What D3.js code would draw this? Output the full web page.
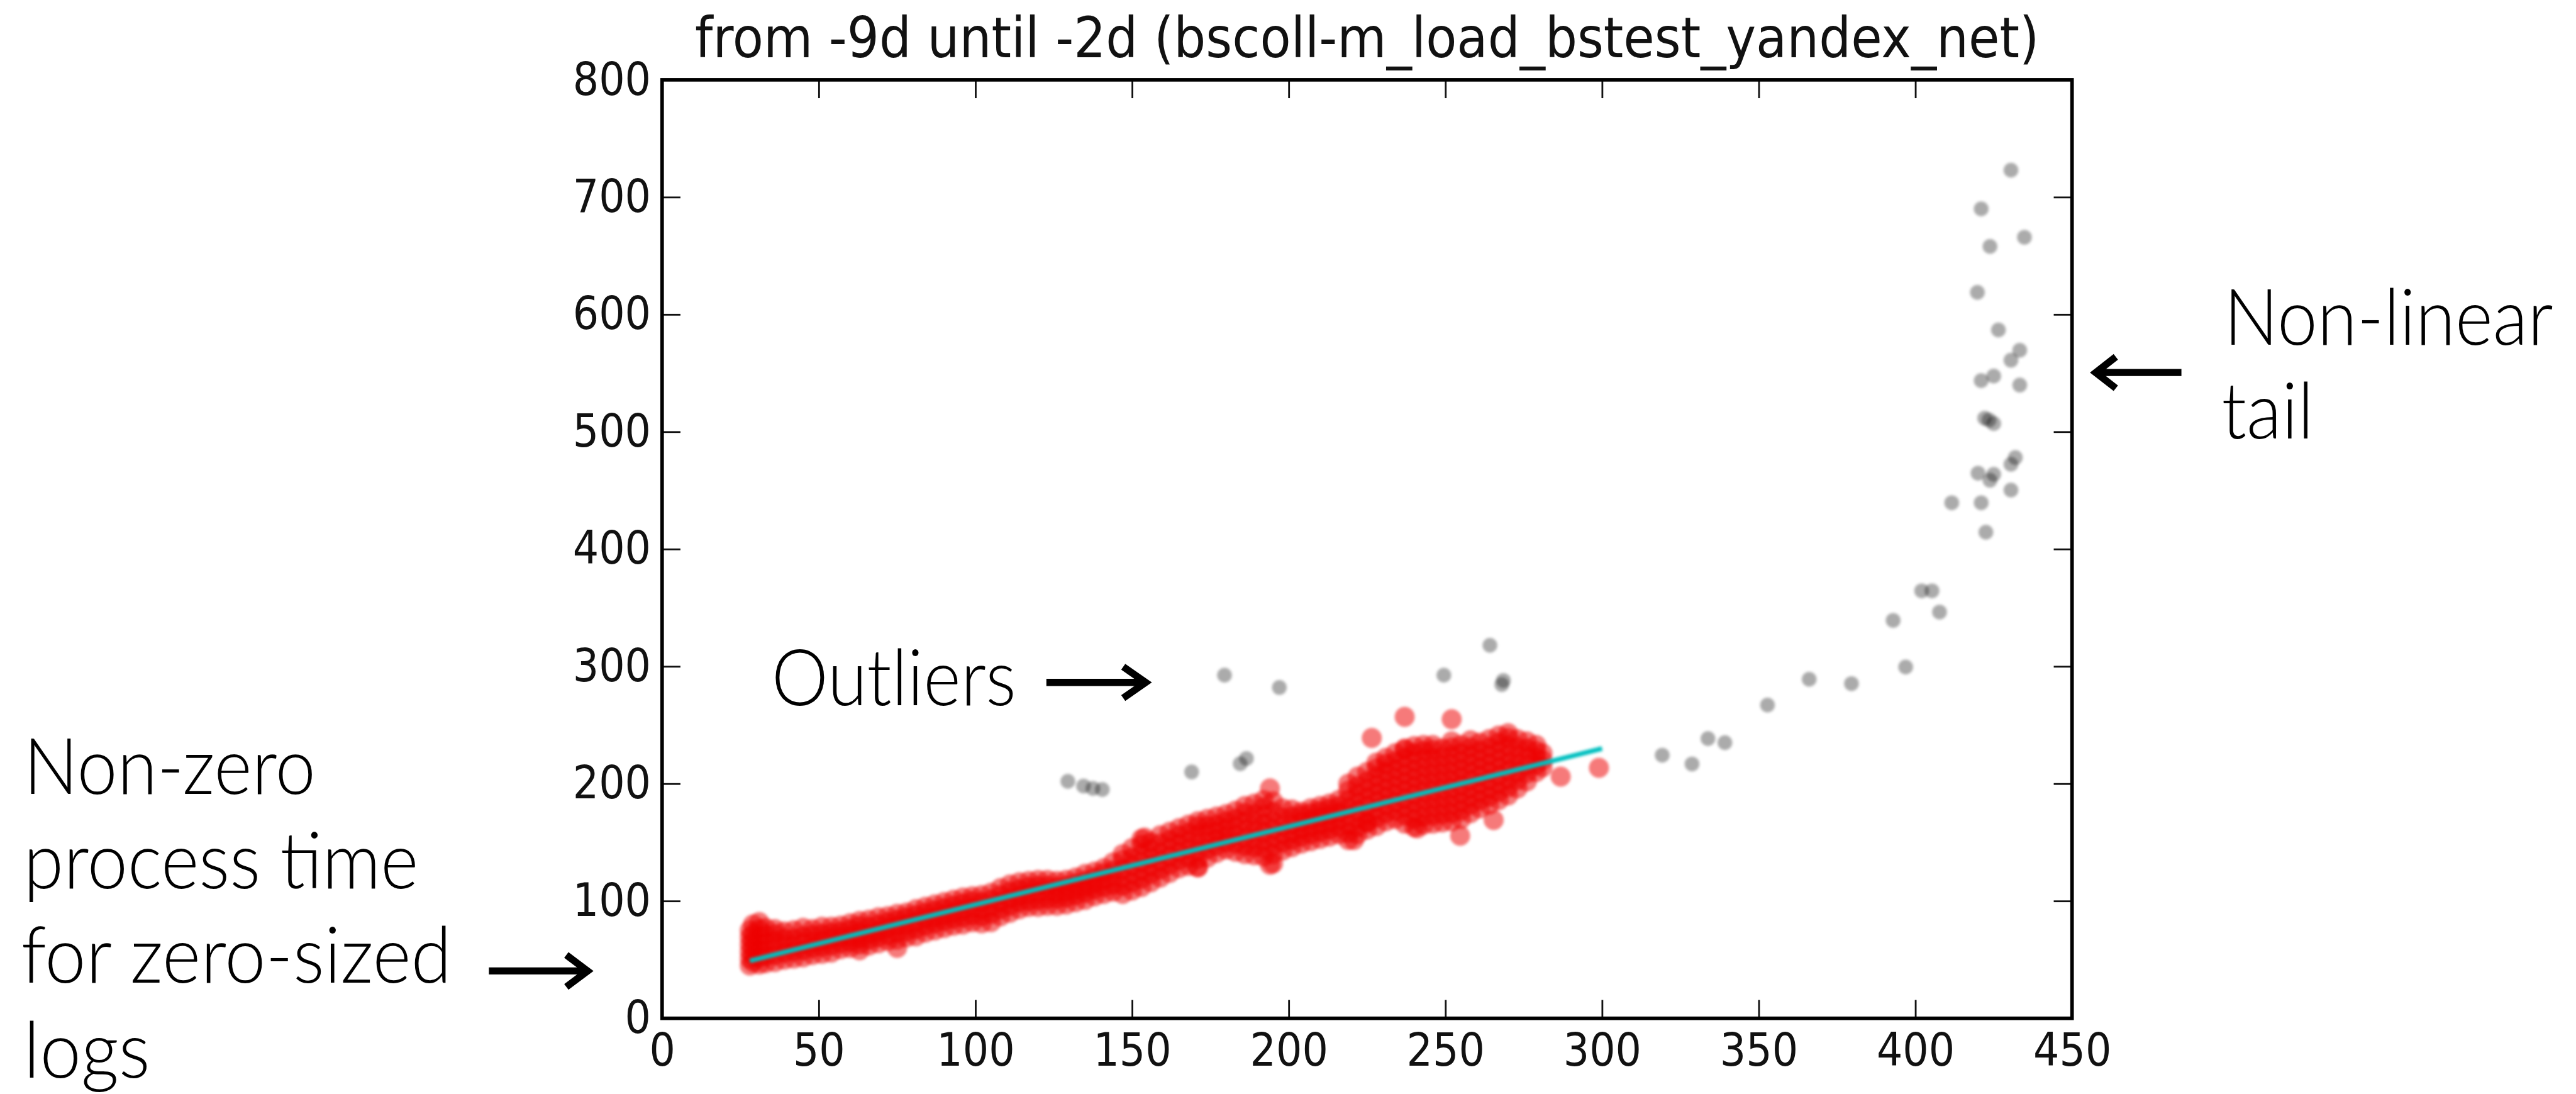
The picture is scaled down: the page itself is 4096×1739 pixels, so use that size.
<!DOCTYPE html>
<html>
<head>
<meta charset="utf-8">
<script src="https://cdn.jsdelivr.net/npm/d3@7"></script>
<style>
  html, body { margin: 0; padding: 0; background: #fff; overflow: hidden; }
</style>
</head>
<body>
<svg id="chart" width="4096" height="1739"></svg>
<script>
// ---- data ---------------------------------------------------------------
const titleText = "from -9d until -2d (bscoll-m_load_bstest_yandex_net)";
const xTicks = [0, 50, 100, 150, 200, 250, 300, 350, 400, 450];
const yTicks = [0, 100, 200, 300, 400, 500, 600, 700, 800];

// main population: [log size, process time values observed at that size]
const redColumns = [
  [28, [45, 51, 57, 63, 69, 75]],
  [29, [48, 54, 60, 66, 72, 80]],
  [31, [46, 52, 58, 64, 70, 76, 82]],
  [33, [47, 53, 59, 65, 71, 77]],
  [36, [48, 54, 60, 66, 72, 76]],
  [39, [50, 56, 62, 68, 74]],
  [42, [51, 57, 62, 68, 75]],
  [45, [52, 58, 64, 70, 77]],
  [48, [54, 60, 65, 71, 76]],
  [51, [55, 61, 66, 72, 78]],
  [54, [56, 62, 68, 73, 78]],
  [57, [59, 64, 69, 74, 79]],
  [60, [60, 65, 70, 76, 81]],
  [63, [58, 63, 68, 73, 79, 83]],
  [66, [62, 67, 72, 78, 84]],
  [69, [64, 69, 74, 80, 86]],
  [72, [66, 71, 77, 82, 87]],
  [75, [60, 67, 73, 79, 84, 89]],
  [78, [69, 74, 80, 86, 90]],
  [81, [70, 76, 82, 88, 93]],
  [84, [73, 79, 85, 90, 95]],
  [87, [75, 81, 86, 92, 97]],
  [90, [77, 83, 88, 94, 99]],
  [93, [79, 85, 90, 96, 101]],
  [96, [80, 86, 92, 98, 103]],
  [99, [82, 88, 94, 100, 104]],
  [102, [81, 87, 93, 99, 105]],
  [105, [82, 89, 95, 101, 107]],
  [108, [87, 93, 99, 105, 111]],
  [111, [90, 96, 102, 108, 114]],
  [114, [93, 99, 104, 110, 116]],
  [117, [95, 100, 106, 112, 117]],
  [120, [95, 101, 107, 113, 118]],
  [123, [96, 102, 108, 113, 118]],
  [126, [96, 102, 107, 112, 117]],
  [129, [97, 103, 108, 113, 118]],
  [132, [99, 105, 110, 115, 120]],
  [135, [101, 107, 112, 117, 123]],
  [138, [104, 110, 115, 120, 125]],
  [141, [106, 112, 118, 124, 128]],
  [144, [108, 114, 120, 126, 133]],
  [147, [106, 113, 120, 127, 135, 140]],
  [150, [109, 116, 123, 130, 137, 145]],
  [153, [112, 119, 126, 133, 140, 148, 153]],
  [156, [116, 123, 130, 137, 144, 150]],
  [159, [120, 127, 134, 141, 149, 156]],
  [162, [124, 131, 138, 145, 152, 159]],
  [165, [128, 135, 142, 149, 156, 162]],
  [168, [130, 137, 144, 151, 158, 165]],
  [171, [129, 136, 143, 150, 157, 164, 168]],
  [174, [137, 144, 151, 158, 164, 170]],
  [177, [141, 147, 153, 159, 165, 172]],
  [180, [144, 150, 156, 162, 168, 174]],
  [183, [142, 149, 156, 163, 170, 177]],
  [186, [140, 147, 154, 161, 168, 175, 181]],
  [189, [139, 146, 153, 160, 167, 174, 183]],
  [192, [138, 145, 152, 159, 166, 173, 180, 186]],
  [195, [132, 140, 147, 154, 161, 168, 176, 185]],
  [198, [143, 150, 157, 164, 171, 179]],
  [201, [146, 152, 158, 165, 172, 178]],
  [204, [149, 155, 161, 167, 173, 176]],
  [207, [151, 157, 163, 169, 175, 179]],
  [210, [153, 159, 165, 171, 177, 181]],
  [213, [155, 161, 167, 173, 179, 183]],
  [216, [157, 163, 169, 175, 181, 186]],
  [219, [152, 158, 165, 172, 179, 186, 194, 200]],
  [222, [157, 163, 170, 177, 184, 191, 198, 206]],
  [225, [161, 167, 174, 181, 188, 195, 202, 210]],
  [228, [164, 171, 178, 185, 192, 199, 206, 213, 218]],
  [231, [168, 175, 182, 189, 196, 203, 210, 217, 222]],
  [234, [170, 177, 184, 191, 198, 205, 212, 219, 226]],
  [237, [166, 173, 180, 187, 194, 201, 208, 215, 222, 229]],
  [240, [163, 170, 177, 184, 191, 198, 205, 212, 219, 226, 232]],
  [243, [165, 172, 179, 186, 193, 200, 207, 214, 221, 228, 233]],
  [246, [166, 173, 180, 187, 194, 201, 208, 215, 222, 229, 233]],
  [249, [167, 174, 181, 188, 195, 202, 209, 216, 223, 230]],
  [252, [168, 175, 182, 189, 196, 203, 210, 217, 224, 231, 236]],
  [255, [170, 177, 184, 191, 198, 205, 212, 219, 226, 233]],
  [258, [175, 182, 189, 196, 203, 210, 217, 224, 231, 237]],
  [261, [179, 186, 193, 200, 207, 214, 221, 228, 235]],
  [264, [182, 189, 196, 203, 210, 217, 224, 231, 238]],
  [267, [186, 193, 200, 207, 214, 221, 228, 235, 241]],
  [270, [190, 197, 204, 211, 218, 225, 232, 239, 243]],
  [273, [196, 203, 210, 217, 224, 231, 238]],
  [276, [202, 209, 216, 223, 230, 236]],
  [279, [210, 216, 222, 228, 233]],
  [281, [214, 220, 226]]
];
// scattered members of the main population
const redLoose = [
  [226.5, 239], [237, 257], [252, 255], [237, 230], [254.7, 155.6],
  [265.4, 169], [286.8, 206], [299, 213.5], [171, 128.7], [194, 131],
  [220.8, 152], [241, 162], [225, 167], [154, 154], [194, 196]
];
// excluded points: outliers and the non-linear tail
const grayPoints = [
  [129.5, 202], [134.5, 198], [137.5, 196], [140.5, 195], [169, 210],
  [184.5, 217], [186.5, 221.5], [179.5, 292.5], [197, 282], [249.5, 292.5],
  [264.2, 318], [268.5, 288], [268, 284.5],
  [319.2, 224.3], [328.7, 216.8], [333.8, 238.5], [339.2, 235], [352.8, 267],
  [366.1, 289], [379.6, 285.3], [392.9, 339.2], [396.9, 299.5], [402, 364.4],
  [405.3, 364.4], [407.7, 346.3], [411.6, 439.5], [420, 464.7], [421, 439.5],
  [422.5, 414.4], [423.8, 458.7], [425, 463.7], [430.5, 450.3], [430.5, 472.3],
  [431.9, 478], [421, 543.6], [425, 547.5], [433.3, 539.8], [430.5, 561],
  [433.3, 569.5], [426.5, 586.8], [419.8, 618.8], [423.8, 658], [434.8, 665.8],
  [421, 690], [430.5, 723], [422.1, 511.6], [425, 507], [423.5, 510]
];
// linear fit through the main population
const fitX = [28, 300];
const fitY = [49, 230];

// ---- layout (drawn in 4353x1848 units, scaled to the window) -----------
const svg = d3.select("#chart");
const defs = svg.append("defs");
defs.append("filter").attr("id", "soft")
  .attr("x", "-5%").attr("y", "-5%").attr("width", "110%").attr("height", "110%")
  .append("feGaussianBlur").attr("stdDeviation", 2.2);

const root = svg.append("g").attr("transform", "scale(0.94)");

const plot = { left: 1120, right: 3505, top: 135, bottom: 1722 };
const x = d3.scaleLinear().domain([0, 450]).range([plot.left, plot.right]);
const y = d3.scaleLinear().domain([0, 800]).range([plot.bottom, plot.top]);

// ---- marks --------------------------------------------------------------
const redPoints = redColumns.flatMap(([sx, ys]) => ys.map(v => [sx, v])).concat(redLoose);

root.append("g").attr("filter", "url(#soft)")
  .selectAll("circle").data(redPoints).join("circle")
  .attr("cx", d => x(d[0])).attr("cy", d => y(d[1])).attr("r", 17)
  .attr("fill", "rgb(238,0,8)").attr("fill-opacity", 0.52);

root.append("path")
  .datum(fitX.map((v, i) => [v, fitY[i]]))
  .attr("d", d3.line().x(d => x(d[0])).y(d => y(d[1])))
  .attr("fill", "none").attr("stroke", "#00bfbf").attr("stroke-width", 8)
  .attr("filter", "url(#soft)");

root.append("g").attr("filter", "url(#soft)")
  .selectAll("circle").data(grayPoints).join("circle")
  .attr("cx", d => x(d[0])).attr("cy", d => y(d[1])).attr("r", 12.5)
  .attr("fill", "#000").attr("fill-opacity", 0.33);

// ---- axes ---------------------------------------------------------------
function styleAxis(g) {
  g.select(".domain").remove();
  g.selectAll(".tick line").attr("stroke", "#111").attr("stroke-width", 3);
  g.selectAll(".tick text")
    .attr("font-family", "DejaVu Sans").attr("font-size", 77).attr("fill", "#111")
    .attr("transform", "scale(0.9,1)");
}
function ticksOnly(g) {
  g.select(".domain").remove();
  g.selectAll(".tick text").remove();
  g.selectAll(".tick line").attr("stroke", "#111").attr("stroke-width", 3);
}
root.append("g").attr("transform", `translate(0,${plot.bottom})`)
  .call(d3.axisBottom(x).tickValues(xTicks).tickSizeInner(-31).tickSizeOuter(0).tickPadding(26).tickFormat(d3.format("d")))
  .call(styleAxis);
root.append("g").attr("transform", `translate(0,${plot.top})`)
  .call(d3.axisTop(x).tickValues(xTicks).tickSizeInner(-31).tickSizeOuter(0))
  .call(ticksOnly);
root.append("g").attr("transform", `translate(${plot.left},0)`)
  .call(d3.axisLeft(y).tickValues(yTicks).tickSizeInner(-31).tickSizeOuter(0).tickPadding(21).tickFormat(d3.format("d")))
  .call(styleAxis);
root.append("g").attr("transform", `translate(${plot.right},0)`)
  .call(d3.axisRight(y).tickValues(yTicks).tickSizeInner(-31).tickSizeOuter(0))
  .call(ticksOnly);

root.append("rect")
  .attr("x", plot.left).attr("y", plot.top)
  .attr("width", plot.right - plot.left).attr("height", plot.bottom - plot.top)
  .attr("fill", "none").attr("stroke", "#000").attr("stroke-width", 6);

// title, squeezed horizontally like the rest of the figure text
const title = root.append("text")
  .attr("text-anchor", "middle")
  .attr("font-family", "DejaVu Sans").attr("font-size", 94).attr("fill", "#111")
  .text(titleText);
{
  const natural = title.node().getComputedTextLength();
  const sx = 2274 / natural;
  title.attr("transform", `translate(${(plot.left + plot.right) / 2},97) scale(${sx},1)`);
}

// ---- annotations --------------------------------------------------------
const notes = [
  { text: "Non-zero", x: 40, y: 1343, w: 494 },
  { text: "process time", x: 40, y: 1502, w: 668 },
  { text: "for zero-sized", x: 36, y: 1662, w: 728 },
  { text: "logs", x: 40, y: 1822, w: 214 },
  { text: "Outliers", x: 1305, y: 1193, w: 414 },
  { text: "Non-linear", x: 3762, y: 583, w: 557 },
  { text: "tail", x: 3758, y: 742, w: 156 }
];
root.append("g").selectAll("text").data(notes).join("text")
  .attr("font-family", "Lato").attr("font-weight", 300).attr("font-size", 132)
  .attr("fill", "#000")
  .text(d => d.text)
  .each(function (d) {
    const natural = this.getComputedTextLength();
    d3.select(this).attr("transform", `translate(${d.x},${d.y}) scale(${d.w / natural},1)`);
  });

const arrows = [
  { from: 827, to: 1000, y: 1642, back: 958, half: 27 },
  { from: 1770, to: 1944, y: 1154, back: 1900, half: 26.5 },
  { from: 3690, to: 3539, y: 630, back: 3579, half: 26.5 }
];
const ag = root.append("g").attr("fill", "none").attr("stroke", "#000").attr("stroke-width", 12);
arrows.forEach(a => {
  const dir = Math.sign(a.to - a.from);
  const tip = a.to - dir * 6;
  ag.append("path").attr("d", `M${a.from},${a.y}H${tip}`);
  ag.append("path").attr("stroke-linejoin", "miter")
    .attr("d", `M${a.back},${a.y - a.half}L${tip},${a.y}L${a.back},${a.y + a.half}`);
});
</script>
</body>
</html>
